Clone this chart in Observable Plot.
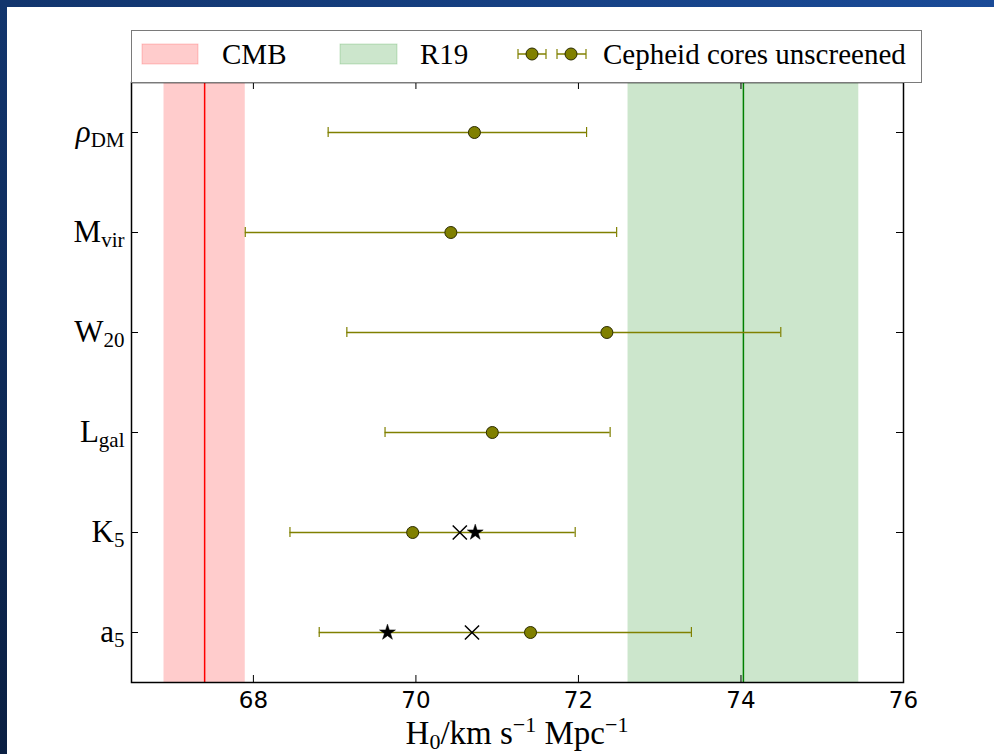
<!DOCTYPE html>
<html><head><meta charset="utf-8">
<script src="https://cdn.jsdelivr.net/npm/d3@7"></script>
<script src="https://cdn.jsdelivr.net/npm/@observablehq/plot@0.6"></script>
<style>
html,body{margin:0;padding:0;}
body{width:994px;height:754px;overflow:hidden;background:linear-gradient(to top right,#0a1f42,#1a4b98);position:relative;}
#page{position:absolute;left:7px;top:7px;width:987px;height:747px;background:#fff;overflow:hidden;}
#chart{position:absolute;left:0;top:0;}
#legend{position:absolute;left:124px;top:23px;}
#chart g[aria-label="x-axis tick label"]{font-family:"DejaVu Sans",sans-serif;font-size:23px;}
#chart g[aria-label="y-axis tick label"]{font-family:"Liberation Serif",serif;font-size:31px;}
</style></head><body>
<div id="page"><div id="chart"></div><div id="legend"></div></div>
<script>
// ---- data ----
const paramBase = ["ρ", "M", "W", "L", "K", "a"];
const paramSub  = ["DM", "vir", "20", "gal", "5", "5"];
const h0   = [70.72, 70.43, 72.35, 70.94, 69.96, 71.41];
const h0Lo = [68.92, 67.90, 69.15, 69.62, 68.45, 68.81];
const h0Hi = [72.10, 72.47, 74.49, 72.39, 71.96, 73.39];
const crossParam = [4, 5];
const crossH0    = [70.54, 70.69];
const starParam  = [4, 5];
const starH0     = [70.73, 69.65];
const cmbCenter = 67.4, cmbErr = 0.5;
const r19Center = 74.03, r19Err = 1.42;
const xTicks = [68, 70, 72, 74, 76];
const xDomain = [66.5, 76];
const legendLabels = ["CMB", "R19", "Cepheid cores unscreened"];

// ---- layout ----
const W = 987, H = 747, mL = 124, mR = 91, mT = 75, mB = 72;
const innerW = W - mL - mR, innerH = H - mT - mB;
const olive = "#808000";
const idx = paramBase.map((_, i) => i);
const rows = idx.map(i => ({i, h0: h0[i], lo: h0Lo[i], hi: h0Hi[i]}));
const crosses = crossParam.map((p, k) => ({i: p, h0: crossH0[k]}));
const stars = starParam.map((p, k) => ({i: p, h0: starH0[k]}));
const bands = [
  {c: cmbCenter, e: cmbErr, fill: "#ff0000", line: "#ff0000"},
  {c: r19Center, e: r19Err, fill: "#008000", line: "#008000"}
];
const capH = 0.05;

const plot = Plot.plot({
  width: W, height: H, marginLeft: mL, marginRight: mR, marginTop: mT, marginBottom: mB,
  style: {background: "transparent", overflow: "visible", color: "black"},
  x: {domain: xDomain},
  y: {domain: [-0.5, paramBase.length - 0.5], reverse: true},
  marks: [
    Plot.rect(bands, {x1: d => d.c - d.e, x2: d => d.c + d.e, fill: "fill", fillOpacity: 0.2}),
    Plot.ruleX(bands, {x: "c", stroke: "line", strokeWidth: 1.5}),
    Plot.ruleY(rows, {y: "i", x1: "lo", x2: "hi", stroke: olive, strokeWidth: 1.5}),
    Plot.ruleX(rows, {x: "lo", y1: d => d.i - capH, y2: d => d.i + capH, stroke: olive, strokeWidth: 1.2}),
    Plot.ruleX(rows, {x: "hi", y1: d => d.i - capH, y2: d => d.i + capH, stroke: olive, strokeWidth: 1.2}),
    Plot.dot(rows, {x: "h0", y: "i", r: 6, fill: olive, stroke: "#2a2a00", strokeWidth: 1}),
    Plot.dot(crosses, {x: "h0", y: "i", symbol: "times", r: 6.5, stroke: "black", strokeWidth: 1.5}),
    Plot.dot(stars, {x: "h0", y: "i", symbol: "star", r: 5, fill: "black", stroke: "black", strokeWidth: 0.5}),
    Plot.tickX(xTicks, {x: d => d, insetTop: innerH - 7, stroke: "black"}),
    Plot.tickX(xTicks, {x: d => d, insetBottom: innerH - 7, stroke: "black"}),
    Plot.tickY(idx, {y: d => d, insetRight: innerW - 7, stroke: "black"}),
    Plot.tickY(idx, {y: d => d, insetLeft: innerW - 7, stroke: "black"}),
    Plot.axisX({ticks: xTicks, tickSize: 0, tickPadding: 9, label: null}),
    Plot.axisY({ticks: idx, tickSize: 0, tickPadding: 7, label: null,
      tickFormat: i => paramBase[i] + paramSub[i]}),
    Plot.frame({stroke: "black", strokeWidth: 1.5})
  ]
});
document.getElementById("chart").appendChild(plot);

// subscripted y tick labels
const svg = d3.select(plot);
svg.selectAll('g[aria-label="y-axis tick label"] text').each(function() {
  const t = d3.select(this);
  const s = t.text();
  const i = idx.find(k => paramBase[k] + paramSub[k] === s);
  if (i === undefined) return;
  t.text("");
  t.append("tspan").text(paramBase[i]).attr("font-style", paramBase[i] === "ρ" ? "italic" : null);
  t.append("tspan").text(paramSub[i]).attr("font-size", "21px").attr("dy", "5");
});

// x axis label
const xl = svg.append("text")
  .attr("x", mL + innerW / 2).attr("y", 737)
  .attr("text-anchor", "middle")
  .attr("font-family", "Liberation Serif, serif").attr("font-size", "33px").attr("fill", "black");
xl.append("tspan").text("H");
xl.append("tspan").text("0").attr("font-size", "22px").attr("dy", 5);
xl.append("tspan").text("/km s").attr("dy", -5);
xl.append("tspan").text("−1").attr("font-size", "22px").attr("dy", -12);
xl.append("tspan").text(" Mpc").attr("dy", 12);
xl.append("tspan").text("−1").attr("font-size", "22px").attr("dy", -12);

// legend
const lg = d3.select("#legend").append("svg").attr("width", 792).attr("height", 54);
lg.append("rect").attr("x", 0.5).attr("y", 0.5).attr("width", 790).attr("height", 52)
  .attr("fill", "white").attr("stroke", "#7a7a7a").attr("stroke-width", 1);
const lfont = g => g.attr("font-family", "Liberation Serif, serif").attr("font-size", "29px").attr("fill", "black");
lg.append("rect").attr("x", 11).attr("y", 14).attr("width", 56).attr("height", 20)
  .attr("fill", "#ff0000").attr("fill-opacity", 0.2).attr("stroke", "#ff0000").attr("stroke-opacity", 0.2);
lg.append("text").attr("x", 91).attr("y", 34).text(legendLabels[0]).call(lfont);
lg.append("rect").attr("x", 209).attr("y", 14).attr("width", 57).attr("height", 20)
  .attr("fill", "#008000").attr("fill-opacity", 0.2).attr("stroke", "#008000").attr("stroke-opacity", 0.2);
lg.append("text").attr("x", 289).attr("y", 34).text(legendLabels[1]).call(lfont);
[[387, 401, 415], [426, 440, 455]].forEach(([a, c, b]) => {
  lg.append("line").attr("x1", a).attr("x2", b).attr("y1", 24).attr("y2", 24).attr("stroke", olive).attr("stroke-width", 1.5);
  lg.append("line").attr("x1", a).attr("x2", a).attr("y1", 19).attr("y2", 29).attr("stroke", olive).attr("stroke-width", 1.2);
  lg.append("line").attr("x1", b).attr("x2", b).attr("y1", 19).attr("y2", 29).attr("stroke", olive).attr("stroke-width", 1.2);
  lg.append("circle").attr("cx", c).attr("cy", 24).attr("r", 6).attr("fill", olive).attr("stroke", "#2a2a00");
});
lg.append("text").attr("x", 472).attr("y", 34).text(legendLabels[2]).call(lfont);
</script>
</body></html>
